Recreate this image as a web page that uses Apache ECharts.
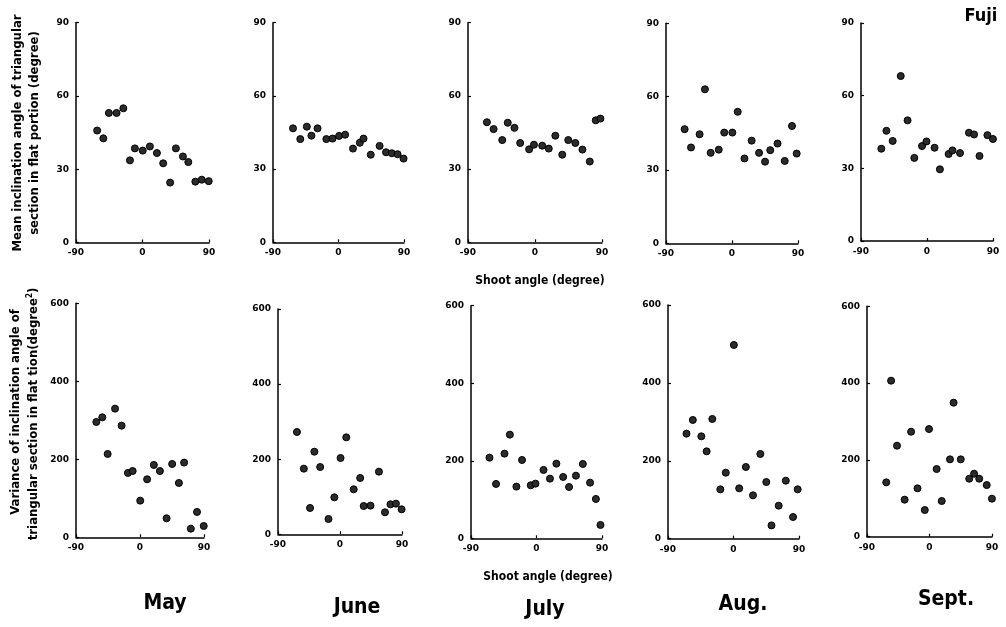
<!DOCTYPE html>
<html><head><meta charset="utf-8">
<script src="https://cdn.jsdelivr.net/npm/echarts@6/dist/echarts.min.js"></script>
<style>html,body{margin:0;padding:0;background:#fff}#c{width:1006px;height:627px}</style>
</head><body><div id="c"></div>
<script>
// Shoot angle (degree) for each month
const shootMay  = [-61.4,-53,-45.5,-35.1,-25.9,-17,-10.3,0.3,10,19.5,28,37.4,45.2,54.7,62,71.5,80.2,89.6];
const shootJune = [-62.5,-52.5,-43.5,-37.2,-28.8,-16.7,-8.2,0.8,9.1,19.9,29.3,34.4,44.3,56.5,65.3,73.3,81.2,89.4];
const shootJuly = [-64.6,-55.6,-44,-36.6,-27.6,-19.9,-7.9,-1.4,9.7,18.5,27.3,36.6,44.7,54.2,63.7,73.6,81.6,87.9];
const shootAug  = [-64.6,-55.9,-44.2,-36.9,-29.1,-18.1,-10.6,0.5,7.8,17,26.8,36.9,45.1,52.2,62.1,71.9,81.8,88.2];
const shootSept = [-62.3,-55.3,-46.8,-35.8,-26.5,-17.3,-6.8,-0.7,10.3,17.6,29.5,34.7,45,57.2,64.2,71.6,82.4,89.9];
// Mean inclination angle (degree)
const meanMay  = [45.8,42.6,53,53,54.9,33.6,38.5,37.6,39.3,36.6,32.4,24.5,38.5,35.2,32.9,24.9,25.7,25.1];
const meanJune = [46.7,42.3,47.4,43.7,46.7,42.3,42.5,43.6,44.1,38.4,40.8,42.5,35.9,39.5,36.9,36.5,36.1,34.3];
const meanJuly = [49.2,46.4,41.9,49,46.9,40.7,38.1,40,39.6,38.4,43.7,35.9,41.9,40.7,38,33.1,50,50.7];
const meanAug  = [46.7,39.2,44.6,63,37,38.3,45.3,45.3,53.8,34.7,42,37,33.4,38.1,40.8,33.7,48,36.7];
const meanSept = [38.1,45.5,41.3,68.1,49.8,34.3,39.2,41.1,38.5,29.6,35.9,37.4,36.3,44.7,44,35.1,43.7,42.1];
// Variance of inclination angle (degree^2)
const varMay  = [295.7,307.7,213.7,329.9,286.3,165,170,94,148.7,185.5,170,48.7,188,139.3,191.5,22.2,65,29];
const varJune = [272.4,174.8,70.1,220,179.2,40.8,98.5,203.2,258.2,119.8,150,75.4,76.3,166.8,58.6,79.9,81.6,66.5];
const varJuly = [208.1,140.2,218.4,267.4,133.3,202,136.7,141,176.3,153.9,192.6,158.2,132.4,161.6,191.7,143.6,101.5,34.4];
const varAug  = [269.7,304.8,262.8,224.3,307.4,126.7,169.5,497.4,129.3,184.1,111.3,217.5,145.5,34.2,84.8,149,55.7,126.7];
const varSept = [141.5,406.3,237,96.4,273.4,125.9,69.4,280.4,176.2,92.9,201.4,349,201.4,151,164.1,151,134.5,99];

const months = ['May','June','July','Aug.','Sept.'];
const xTicks = [-90, 0, 90];
const meanTicks = [0, 30, 60, 90];
const varTicks = [0, 200, 400, 600];

const shoots = [shootMay, shootJune, shootJuly, shootAug, shootSept];
const means = [meanMay, meanJune, meanJuly, meanAug, meanSept];
const vars = [varMay, varJune, varJuly, varAug, varSept];

const topGrids = [
  {left:76, top:22.5, width:133, height:220},
  {left:273, top:22.7, width:131, height:219.6},
  {left:468, top:22.7, width:134, height:219.6},
  {left:666, top:23.3, width:132, height:220},
  {left:861, top:23, width:132, height:218}
];
const botGrids = [
  {left:76, top:303.3, width:128, height:234},
  {left:278, top:309, width:124, height:225.3},
  {left:471, top:305.7, width:131, height:232.6},
  {left:668, top:305, width:131, height:233.7},
  {left:867, top:306.3, width:125, height:230.4}
];
const monthPos = [[165,604],[357,608],[545,610],[743,605],[946,600]];

const tickFont = {fontFamily:'DejaVu Sans', fontWeight:'bold', fontSize:9, color:'#000'};
const grid = [], xAxis = [], yAxis = [], series = [];
function addPanel(g, xs, ys, ymax, yint) {
  const i = grid.length;
  grid.push(Object.assign({containLabel:false}, g));
  xAxis.push({gridIndex:i, type:'value', min:xTicks[0], max:xTicks[xTicks.length-1], interval:90,
    axisLine:{onZero:false, lineStyle:{color:'#000', width:1.5}},
    axisTick:{inside:true, length:3, lineStyle:{color:'#000', width:1.2}},
    axisLabel:Object.assign({margin:6}, tickFont), splitLine:{show:false}});
  yAxis.push({gridIndex:i, type:'value', min:0, max:ymax, interval:yint,
    axisLine:{show:true, onZero:false, lineStyle:{color:'#000', width:1.5}},
    axisTick:{show:true, inside:true, length:3, lineStyle:{color:'#000', width:1.2}},
    axisLabel:Object.assign({margin:7}, tickFont), splitLine:{show:false}});
  series.push({type:'scatter', xAxisIndex:i, yAxisIndex:i, symbol:'circle', symbolSize:7,
    itemStyle:{color:'#2b2b2b', borderColor:'#000', borderWidth:1, opacity:1},
    data: xs.map((x,k)=>[x, ys[k]]), silent:true, animation:false});
}
for (let m=0;m<5;m++) addPanel(topGrids[m], shoots[m], means[m], meanTicks[meanTicks.length-1], 30);
for (let m=0;m<5;m++) addPanel(botGrids[m], shoots[m], vars[m], varTicks[varTicks.length-1], 200);

const labFont = "'Liberation Sans Narrow','DejaVu Sans Condensed',sans-serif";
const graphic = [
  {type:'text', x:18, y:133, rotation:Math.PI/2, style:{text:'Mean inclination angle of triangular', font:'bold 13px '+labFont, fill:'#000', align:'center', verticalAlign:'middle'}},
  {type:'text', x:35, y:133, rotation:Math.PI/2, style:{text:'section in flat portion (degree)', font:'bold 13px '+labFont, fill:'#000', align:'center', verticalAlign:'middle'}},
  {type:'text', x:16, y:412, rotation:Math.PI/2, style:{text:'Variance of inclination angle of', font:'bold 13px '+labFont, fill:'#000', align:'center', verticalAlign:'middle'}},
  {type:'text', x:34, y:414, rotation:Math.PI/2, style:{text:'triangular section in flat tion(degree{s|2})', font:'bold 13px '+labFont, fill:'#000', align:'center', verticalAlign:'middle',
     rich:{s:{font:'bold 8px '+labFont, fill:'#000', verticalAlign:'top', padding:[0,0,8,0]}}}},
  {type:'text', x:540, y:281, style:{text:'Shoot angle (degree)', font:'bold 12px '+labFont, fill:'#000', align:'center', verticalAlign:'middle'}},
  {type:'text', x:548, y:577, style:{text:'Shoot angle (degree)', font:'bold 12px '+labFont, fill:'#000', align:'center', verticalAlign:'middle'}},
  {type:'text', x:981, y:16, style:{text:'Fuji', font:'bold 18px '+labFont, fill:'#000', align:'center', verticalAlign:'middle'}}
];
months.forEach((mo,k)=>graphic.push({type:'text', x:monthPos[k][0], y:monthPos[k][1],
  style:{text:mo, font:'bold 21px '+labFont, fill:'#000', align:'center', verticalAlign:'middle'}}));

const chart = echarts.init(document.getElementById('c'), null, {renderer:'canvas'});
chart.setOption({animation:false, backgroundColor:'#fff', grid, xAxis, yAxis, series, graphic});
</script></body></html>
